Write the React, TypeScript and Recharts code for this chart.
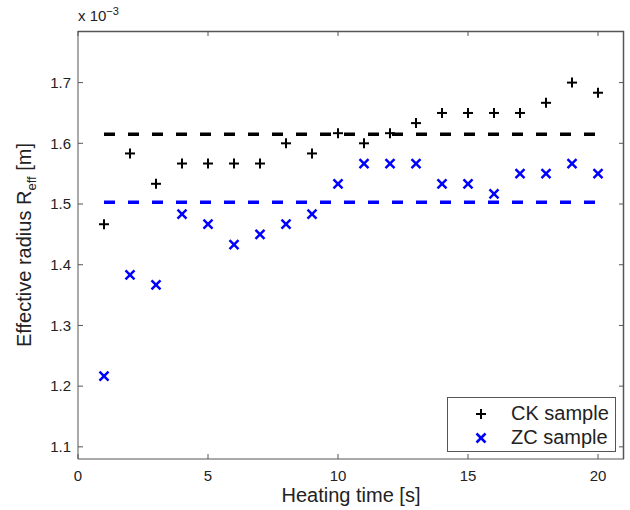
import {
  ComposedChart,
  Scatter,
  Line,
  XAxis,
  YAxis,
  Legend,
} from 'recharts';

// heating time [s]
const times = [1, 2, 3, 4, 5, 6, 7, 8, 9, 10, 11, 12, 13, 14, 15, 16, 17, 18, 19, 20];

// effective radius, in units of 1e-3 m
const ckValues = [
  1.4667, 1.5833, 1.5333, 1.5667, 1.5667, 1.5667, 1.5667, 1.6, 1.5833, 1.6167,
  1.6, 1.6167, 1.6333, 1.65, 1.65, 1.65, 1.65, 1.6667, 1.7, 1.6833,
];
const zcValues = [
  1.2167, 1.3833, 1.3667, 1.4833, 1.4667, 1.4333, 1.45, 1.4667, 1.4833, 1.5333,
  1.5667, 1.5667, 1.5667, 1.5333, 1.5333, 1.5167, 1.55, 1.55, 1.5667, 1.55,
];

// dashed reference levels
const ckLevel = 1.615;
const zcLevel = 1.503;

const xTicks = [0, 5, 10, 15, 20];
const yTicks = [1.1, 1.2, 1.3, 1.4, 1.5, 1.6, 1.7];
const xDomain = [0, 21];
const yDomain = [1.08, 1.785];

const ckData = times.map((x, i) => ({ x, y: ckValues[i] }));
const zcData = times.map((x, i) => ({ x, y: zcValues[i] }));
const ckLine = [
  { x: times[0], y: ckLevel },
  { x: times[times.length - 1], y: ckLevel },
];
const zcLine = [
  { x: times[0], y: zcLevel },
  { x: times[times.length - 1], y: zcLevel },
];

const FONT = 'Arial, "Liberation Sans", Helvetica, sans-serif';
const AXIS = '#555';
const BLUE = '#0000ff';

// plot box (chart margins + axis sizes)
const W = 630;
const H = 510;
const TOP = 31;
const LEFT = 78;
const RIGHT = 6;
const XAXIS_H = 51;

const Plus = ({ cx, cy }: any) => (
  <g stroke="#000" strokeWidth={2}>
    <line x1={cx - 5} y1={cy} x2={cx + 5} y2={cy} />
    <line x1={cx} y1={cy - 5} x2={cx} y2={cy + 5} />
  </g>
);

const Cross = ({ cx, cy }: any) => (
  <g stroke={BLUE} strokeWidth={2.5}>
    <line x1={cx - 4.5} y1={cy - 4.5} x2={cx + 4.5} y2={cy + 4.5} />
    <line x1={cx - 4.5} y1={cy + 4.5} x2={cx + 4.5} y2={cy - 4.5} />
  </g>
);

// bottom tick label + mirrored tick on top; first tick also draws the top edge
const XTick = ({ x, y, payload, index }: any) => (
  <g>
    {index === 0 && (
      <line x1={LEFT} y1={TOP + 0.5} x2={W - RIGHT} y2={TOP + 0.5} stroke={AXIS} strokeWidth={1.5} />
    )}
    <line x1={x} y1={TOP} x2={x} y2={TOP + 5} stroke={AXIS} />
    <text x={x} y={y} dy="0.71em" textAnchor="middle" fontSize={15} fill="#222" fontFamily={FONT}>
      {payload.value}
    </text>
  </g>
);

// left tick label + mirrored tick on the right; first tick also draws the right edge
const YTick = ({ x, y, payload, index }: any) => (
  <g>
    {index === 0 && (
      <line
        x1={W - RIGHT - 0.5}
        y1={TOP}
        x2={W - RIGHT - 0.5}
        y2={H - XAXIS_H}
        stroke={AXIS}
        strokeWidth={1.5}
      />
    )}
    <line x1={W - RIGHT} y1={y} x2={W - RIGHT - 5} y2={y} stroke={AXIS} />
    <text x={x} y={y} dy="0.355em" textAnchor="end" fontSize={15} fill="#222" fontFamily={FONT}>
      {Number(payload.value).toFixed(1)}
    </text>
  </g>
);

const YLabel = ({ viewBox }: any) => {
  const cx = viewBox.x + 31;
  const cy = viewBox.y + viewBox.height / 2;
  return (
    <text
      x={cx}
      y={cy}
      transform={`rotate(-90 ${cx} ${cy})`}
      textAnchor="middle"
      fontSize={20}
      fill="#222"
      fontFamily={FONT}
    >
      Effective radius R
      <tspan fontSize={13} dy={5}>eff</tspan>
      <tspan dy={-5}> [m]</tspan>
    </text>
  );
};

const LegendBox = () => (
  <div
    style={{
      border: `1px solid ${AXIS}`,
      background: '#fff',
      width: 167,
      height: 53,
      fontFamily: FONT,
      fontSize: 20,
      color: '#222',
      position: 'relative',
    }}
  >
    <svg width={30} height={53} style={{ position: 'absolute', left: 18, top: 0 }}>
      <Plus cx={15} cy={16} />
      <Cross cx={15} cy={40} />
    </svg>
    <div style={{ position: 'absolute', left: 63, top: 3, lineHeight: '24px' }}>
      <div>CK sample</div>
      <div>ZC sample</div>
    </div>
  </div>
);

export default function App() {
  return (
    <div
      style={{
        position: 'absolute',
        left: 0,
        top: 0,
        width: W,
        height: H,
        overflow: 'hidden',
        background: '#fff',
      }}
    >
      <div
        style={{
          position: 'absolute',
          left: LEFT,
          top: 5,
          fontFamily: FONT,
          fontSize: 15,
          color: '#222',
        }}
      >
        x 10<sup style={{ fontSize: 11 }}>−3</sup>
      </div>
      <ComposedChart
        width={W}
        height={H}
        margin={{ top: TOP, right: RIGHT, bottom: 0, left: 0 }}
        style={{ position: 'absolute', left: 0, top: 0 }}
      >
        <XAxis
          dataKey="x"
          type="number"
          domain={xDomain}
          ticks={xTicks}
          height={XAXIS_H}
          stroke={AXIS}
          tickSize={-5}
          tickMargin={16}
          tick={XTick}
          allowDataOverflow
          label={{
            value: 'Heating time [s]',
            position: 'insideBottom',
            offset: 8,
            fontSize: 20,
            fill: '#222',
            fontFamily: FONT,
          }}
        />
        <YAxis
          dataKey="y"
          type="number"
          domain={yDomain}
          ticks={yTicks}
          width={LEFT}
          stroke={AXIS}
          tickSize={-5}
          tickMargin={12}
          tick={YTick}
          allowDataOverflow
          label={{ content: YLabel }}
        />
        <Line
          data={ckLine}
          dataKey="y"
          stroke="#000"
          strokeWidth={3.5}
          strokeDasharray="11 13"
          dot={false}
          activeDot={false}
          isAnimationActive={false}
        />
        <Line
          data={zcLine}
          dataKey="y"
          stroke={BLUE}
          strokeWidth={3.5}
          strokeDasharray="11 13"
          dot={false}
          activeDot={false}
          isAnimationActive={false}
        />
        <Scatter name="CK sample" data={ckData} dataKey="y" shape={Plus} isAnimationActive={false} />
        <Scatter name="ZC sample" data={zcData} dataKey="y" shape={Cross} isAnimationActive={false} />
        <Legend
          layout="vertical"
          align="center"
          verticalAlign="middle"
          content={LegendBox}
          wrapperStyle={{ left: 447, top: 397, width: 169, height: 55 }}
        />
      </ComposedChart>
    </div>
  );
}
